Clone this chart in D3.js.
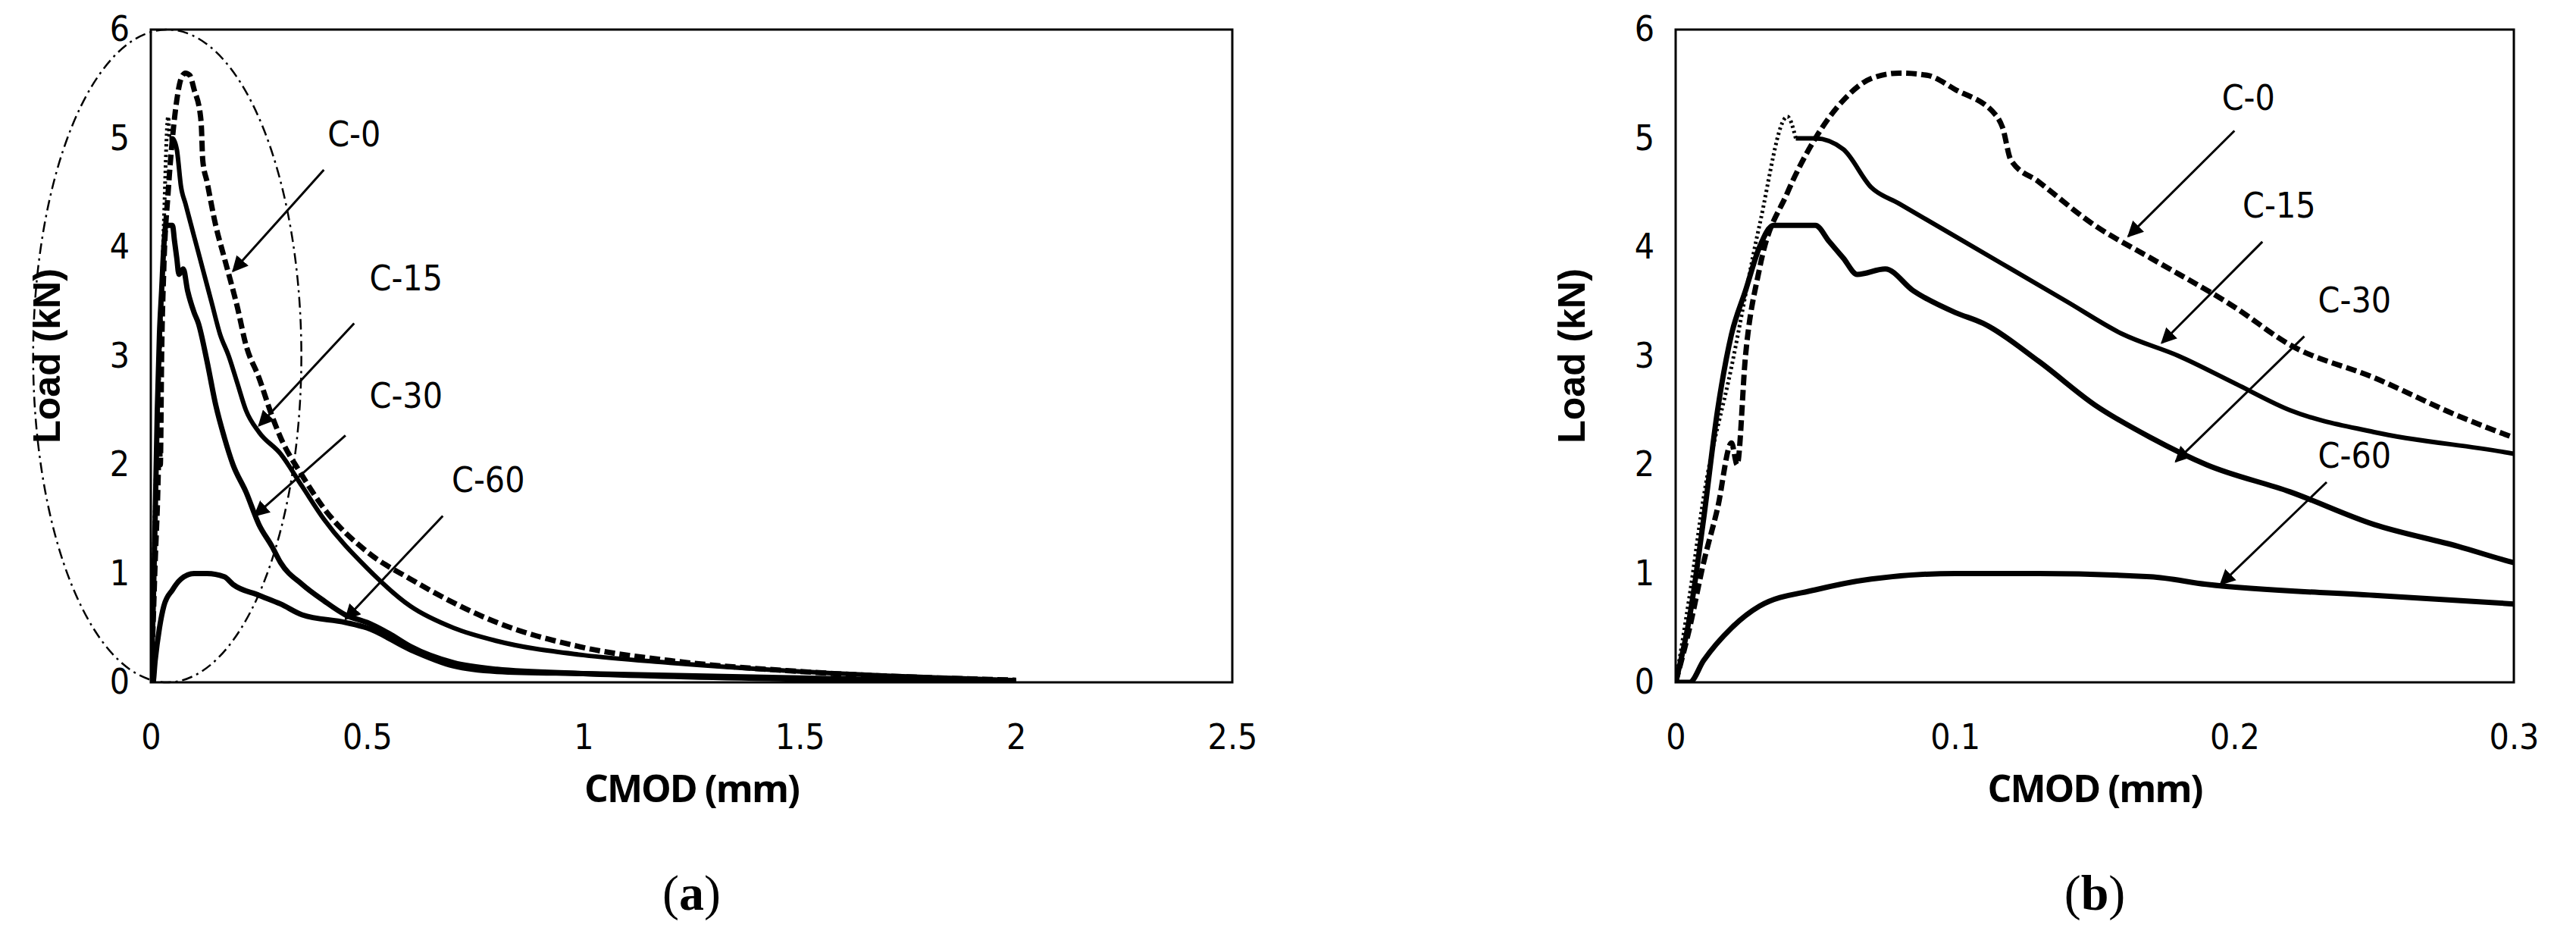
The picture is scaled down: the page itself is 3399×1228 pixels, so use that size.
<!DOCTYPE html>
<html><head><meta charset="utf-8">
<script src="https://cdn.jsdelivr.net/npm/d3@7"></script>
<style>body{margin:0;background:#fff}</style></head>
<body><svg id="c" width="3399" height="1228"></svg>
<script>
// data [CMOD mm, Load kN]
const c0 = [[0,0],[0.005,0.5],[0.01,1.1],[0.015,1.6],[0.02,2.2],[0.022,2.0],[0.025,3.0],[0.03,3.8],[0.04,4.5],[0.05,5.0],[0.06,5.35],[0.07,5.55],[0.08,5.6],[0.09,5.58],[0.1,5.45],[0.115,5.2],[0.117,5.1],[0.12,4.8],[0.13,4.6],[0.15,4.2],[0.17,3.9],[0.2,3.45],[0.22,3.1],[0.25,2.8],[0.28,2.45],[0.3,2.25],[0.35,1.9],[0.4,1.6],[0.5,1.2],[0.6,0.95],[0.8,0.55],[1.0,0.32],[1.2,0.2],[1.5,0.1],[2.0,0.02]];
const c15 = [[0,0],[0.005,0.8],[0.01,1.7],[0.02,2.9],[0.03,4.2],[0.04,5.2],[0.043,5.0],[0.05,5.0],[0.06,4.9],[0.07,4.55],[0.08,4.4],[0.1,4.1],[0.12,3.8],[0.14,3.5],[0.16,3.2],[0.18,3.0],[0.2,2.75],[0.22,2.5],[0.25,2.3],[0.3,2.1],[0.35,1.8],[0.4,1.5],[0.5,1.05],[0.6,0.7],[0.7,0.5],[0.8,0.38],[1.0,0.25],[1.2,0.18],[1.5,0.1],[2.0,0.02]];
const c30 = [[0,0],[0.005,0.6],[0.01,1.5],[0.015,2.5],[0.02,3.2],[0.025,3.6],[0.03,4.0],[0.035,4.2],[0.04,4.2],[0.05,4.2],[0.055,4.05],[0.06,3.9],[0.065,3.75],[0.075,3.8],[0.085,3.6],[0.1,3.4],[0.11,3.3],[0.13,2.95],[0.15,2.55],[0.17,2.25],[0.19,2.0],[0.22,1.75],[0.25,1.45],[0.28,1.25],[0.3,1.1],[0.35,0.9],[0.4,0.75],[0.45,0.62],[0.5,0.55],[0.55,0.45],[0.6,0.33],[0.7,0.18],[0.8,0.12],[1.0,0.08],[1.5,0.03],[2.0,0.01]];
const c60 = [[0,0],[0.005,0],[0.01,0.2],[0.02,0.5],[0.03,0.7],[0.05,0.85],[0.07,0.95],[0.1,1.0],[0.13,1.0],[0.17,0.97],[0.19,0.9],[0.25,0.8],[0.3,0.72],[0.35,0.62],[0.45,0.55],[0.5,0.5],[0.6,0.3],[0.7,0.15],[0.8,0.1],[1.0,0.08],[1.5,0.04],[2.0,0]];
const xTicksA = [0,0.5,1,1.5,2,2.5];
const xTicksB = [0,0.1,0.2,0.3];
const yTicks = [0,1,2,3,4,5,6];
const labelsA = [["C-0",0.47,4.93,0.4,4.71,0.19,3.78],["C-15",0.59,3.6,0.47,3.3,0.25,2.36],["C-30",0.59,2.52,0.45,2.27,0.24,1.53],["C-60",0.78,1.75,0.675,1.53,0.45,0.58]];
const labelsB = [["C-0",0.205,5.26,0.2,5.07,0.162,4.1],["C-15",0.216,4.27,0.21,4.05,0.174,3.12],["C-30",0.243,3.4,0.225,3.18,0.179,2.03],["C-60",0.243,1.97,0.233,1.84,0.195,0.9]];

const svg = d3.select("#c");
svg.append("defs").append("marker").attr("id","ar").attr("viewBox","0 0 10 10").attr("refX",9).attr("refY",5)
  .attr("markerWidth",7).attr("markerHeight",7).attr("orient","auto").attr("markerUnits","strokeWidth")
  .append("path").attr("d","M0,0L10,5L0,10z").attr("fill","#000");
const tickFont = "'Liberation Sans Narrow','DejaVu Sans Condensed',sans-serif";

function panel(L,R,xmax,xticks,fmt,labels,tag,ellipse){
  const T=39,B=900;
  const x=d3.scaleLinear().domain([0,xmax]).range([L,R]);
  const y=d3.scaleLinear().domain([0,6]).range([B,T]);
  const g=svg.append("g");
  const clip="cl"+tag;
  g.append("clipPath").attr("id",clip).append("rect").attr("x",L).attr("y",T).attr("width",R-L).attr("height",B-T);
  const line=d3.line().x(d=>x(d[0])).y(d=>y(d[1])).curve(d3.curveMonotoneX);
  const cg=g.append("g").attr("clip-path",`url(#${clip})`);
  const st=(p,da,w)=>cg.append("path").attr("d",line(p)).attr("fill","none").attr("stroke","#000").attr("stroke-width",w).attr("stroke-dasharray",da);
  st(c60,null,7); st(c30,null,7);
  st(c15.filter(d=>d[0]<=0.043),"3,4",5); st(c15.filter(d=>d[0]>=0.043),null,6);
  st(c0,"14,6",7);
  if(ellipse){
    g.append("ellipse").attr("cx",x(0.038)).attr("cy",y(3)).attr("rx",x(0.31)-x(0)).attr("ry",y(0)-y(3))
      .attr("fill","none").attr("stroke","#000").attr("stroke-width",2.5).attr("stroke-dasharray","14,6,3,6");
  }
  g.append("rect").attr("x",L).attr("y",T).attr("width",R-L).attr("height",B-T).attr("fill","none").attr("stroke","#000").attr("stroke-width",3);
  const ax=g.append("g").attr("transform",`translate(0,${B})`).call(d3.axisBottom(x).tickValues(xticks).tickFormat(fmt).tickSize(0).tickPadding(55));
  const ay=g.append("g").attr("transform",`translate(${L},0)`).call(d3.axisLeft(y).tickValues(yTicks).tickFormat(d3.format("d")).tickSize(0).tickPadding(28));
  [ax,ay].forEach(a=>{a.select(".domain").remove();a.selectAll("text").attr("font-family",tickFont).attr("font-size",46).attr("fill","#000");});
  labels.forEach(l=>{
    g.append("text").attr("x",x(l[1])).attr("y",y(l[2])).attr("text-anchor","middle").attr("font-family",tickFont).attr("font-size",46).text(l[0]);
    g.append("line").attr("x1",x(l[3])).attr("y1",y(l[4])).attr("x2",x(l[5])).attr("y2",y(l[6])).attr("stroke","#000").attr("stroke-width",3).attr("marker-end","url(#ar)");
  });
  g.append("text").attr("x",(L+R)/2).attr("y",1058).attr("text-anchor","middle").attr("font-family","'Open Sans','DejaVu Sans',sans-serif").attr("font-weight","bold").attr("font-size",50).attr("letter-spacing",-2).text("CMOD (mm)");
  g.append("text").attr("transform",`translate(${L-120},${(T+B)/2}) rotate(-90)`).attr("text-anchor","middle").attr("font-family","'Liberation Sans',Arial,sans-serif").attr("font-weight","bold").attr("font-size",50).text("Load (kN)");
  g.append("text").attr("x",(L+R)/2).attr("y",1200).attr("text-anchor","middle").attr("font-family","'Liberation Serif','Times New Roman',serif").attr("font-size",66).html("(<tspan font-weight='bold'>"+tag+"</tspan>)");
}
panel(199,1626,2.5,xTicksA,d3.format("~g"),labelsA,"a",true);
panel(2211,3317,0.3,xTicksB,d3.format("~g"),labelsB,"b",false);
</script></body></html>
